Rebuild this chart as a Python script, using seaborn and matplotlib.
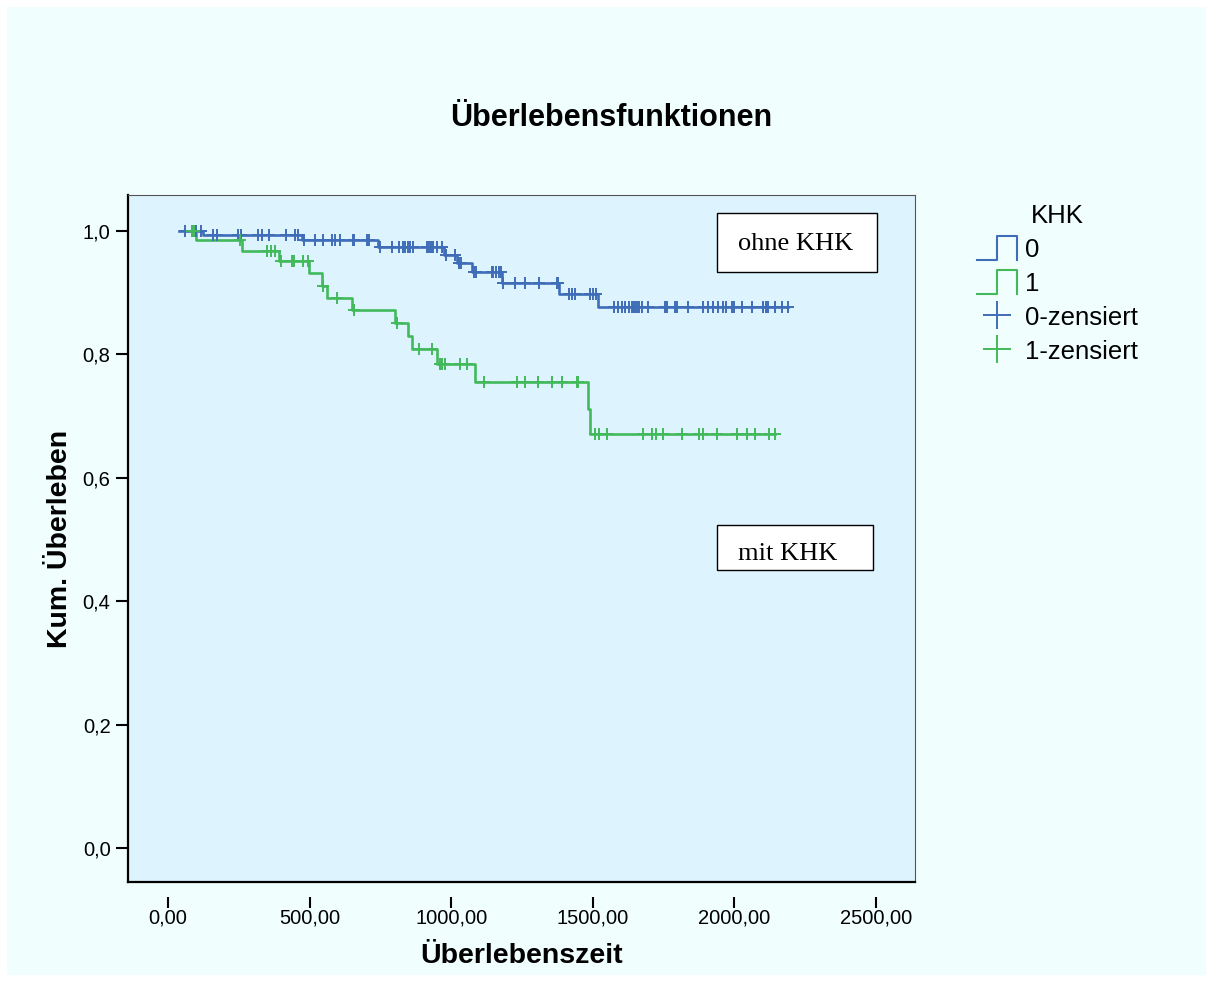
import numpy as np
import pandas as pd
import matplotlib
matplotlib.use("Agg")
import matplotlib.pyplot as plt
import seaborn as sns
from matplotlib.lines import Line2D
from matplotlib.patches import Rectangle
from matplotlib.legend_handler import HandlerBase

# ---------------- data ----------------
title = "Überlebensfunktionen"
x_label = "Überlebenszeit"
y_label = "Kum. Überleben"
legend_title = "KHK"
legend_labels = ["0", "1", "0-zensiert", "1-zensiert"]
x_ticks = [0, 500, 1000, 1500, 2000, 2500]
x_tick_labels = ["0,00", "500,00", "1000,00", "1500,00", "2000,00", "2500,00"]
y_ticks = [0.0, 0.2, 0.4, 0.6, 0.8, 1.0]
y_tick_labels = ["0,0", "0,2", "0,4", "0,6", "0,8", "1,0"]
note_upper = "ohne KHK"
note_lower = "mit KHK"

# KHK = 0 (step function: time at which survival changes, survival after)
khk0_times = [40, 124, 473, 742, 975, 1022, 1075, 1180, 1380, 1520, 2190]
khk0_surv = [1.0, 0.993, 0.985, 0.974, 0.961, 0.948, 0.934, 0.916, 0.898, 0.876, 0.876]
khk0_censored = [60, 86, 98, 118, 160, 174, 248, 258, 319, 333, 358, 417, 449, 458,
                 480, 519, 548, 578, 590, 607, 652, 657, 702, 710,
                 749, 792, 817, 829, 837, 846, 855, 866, 913, 921, 928, 935, 949, 966,
                 980, 1012, 1028, 1034, 1080, 1086, 1143, 1149, 1158, 1170, 1176,
                 1184, 1225, 1260, 1310, 1373, 1378, 1417, 1425, 1437, 1490, 1500, 1511,
                 1576, 1590, 1602, 1614, 1629, 1637, 1643, 1649, 1655, 1663, 1672, 1696,
                 1755, 1761, 1790, 1798, 1837, 1890, 1908, 1925, 1943, 1961, 1970, 1990,
                 1999, 2026, 2061, 2102, 2110, 2120, 2143, 2167, 2190]

# KHK = 1
khk1_times = [80, 99, 262, 393, 499, 543, 560, 650, 800, 849, 863, 949, 1084, 1484, 1490, 2143]
khk1_surv = [1.0, 0.985, 0.968, 0.951, 0.932, 0.911, 0.892, 0.872, 0.851, 0.830, 0.809,
             0.784, 0.755, 0.712, 0.671, 0.671]
khk1_censored = [85, 93, 255, 351, 364, 378, 398, 437, 446, 478, 495, 546, 596, 656, 808,
                 886, 933, 960, 969, 979, 1031, 1055, 1116, 1231, 1261, 1308, 1357, 1392,
                 1443, 1449, 1508, 1522, 1549, 1678, 1708, 1723, 1747, 1814, 1876, 1890,
                 1940, 2010, 2043, 2073, 2123, 2143]

# ---------------- style ----------------
W, H = 1213, 982
BLUE = "#3F6DB8"
GREEN = "#42B95B"
OUTER_BG = "#F0FEFE"
PLOT_BG = "#DDF3FD"

plt.rcParams["font.family"] = ["Liberation Sans", "DejaVu Sans"]

fig = plt.figure(figsize=(W / 100, H / 100), dpi=100, facecolor="white")
fig.add_artist(Rectangle((7 / W, 7 / H), 1 - 14 / W, 1 - 14 / H, transform=fig.transFigure,
                         facecolor=OUTER_BG, edgecolor="none", zorder=-10))

ax = fig.add_axes([128 / W, 1 - 882 / H, (915 - 128) / W, (882 - 195) / H])
ax.set_facecolor(PLOT_BG)


def surv_at(times, surv, t):
    idx = np.searchsorted(np.asarray(times), np.asarray(t), side="right") - 1
    return np.asarray(surv)[np.clip(idx, 0, None)]


for times, surv, cens, col in [(khk0_times, khk0_surv, khk0_censored, BLUE),
                               (khk1_times, khk1_surv, khk1_censored, GREEN)]:
    df = pd.DataFrame({"t": times, "s": surv})
    sns.lineplot(data=df, x="t", y="s", drawstyle="steps-post", color=col, linewidth=1.9,
                 estimator=None, sort=False, ax=ax, legend=False)
    dc = pd.DataFrame({"t": cens, "s": surv_at(times, surv, cens)})
    sns.scatterplot(data=dc, x="t", y="s", marker="+", s=70, color=col, linewidth=1.4,
                    ax=ax, legend=False, zorder=3)

ax.set_xlim(-141.2, 2637.7)
ax.set_ylim(-0.0551, 1.0583)
ax.set_xticks(x_ticks)
ax.set_xticklabels(x_tick_labels)
ax.set_yticks(y_ticks)
ax.set_yticklabels(y_tick_labels)
ax.tick_params(axis="x", direction="out", length=8, width=1.5, pad=0, labelsize=14.5, colors="black")
ax.tick_params(axis="y", direction="out", length=8.6, width=1.5, pad=4, labelsize=14.5, colors="black")

# spines
ax.spines["left"].set_linewidth(1.6)
ax.spines["left"].set_color("black")
ax.spines["top"].set_linewidth(0.8)
ax.spines["top"].set_color("#555555")
ax.spines["right"].set_linewidth(0.8)
ax.spines["right"].set_color("#555555")
ax.spines["bottom"].set_position(("outward", 11))
ax.spines["bottom"].set_linewidth(0)
ax.plot([0, 1], [0, 0], transform=ax.transAxes, color="black", lw=1.6, clip_on=False, zorder=5)

ax.set_xlabel(x_label, fontsize=20.5, fontweight="bold", labelpad=11)
ax.set_ylabel(y_label, fontsize=20.5, fontweight="bold", labelpad=7)

fig.text(611 / W, 1 - 118 / H, title, ha="center", va="center", fontsize=22, fontweight="bold")

# annotation boxes
fig.add_artist(Rectangle((717 / W, 1 - 272 / H), 160 / W, 59 / H, transform=fig.transFigure,
                         facecolor="white", edgecolor="black", lw=1.0, zorder=4))
fig.add_artist(Rectangle((717 / W, 1 - 570 / H), 156 / W, 45 / H, transform=fig.transFigure,
                         facecolor="white", edgecolor="black", lw=1.0, zorder=4))
fig.text(738 / W, 1 - 249.5 / H, note_upper, ha="left", va="baseline", fontsize=19,
         family="Liberation Serif", zorder=5)
fig.text(738 / W, 1 - 560 / H, note_lower, ha="left", va="baseline", fontsize=19,
         family="Liberation Serif", zorder=5)


# legend
class StepHandler(HandlerBase):
    def create_artists(self, legend, orig_handle, xdescent, ydescent, width, height, fontsize, trans):
        x0, y0 = -xdescent, -ydescent
        xs = [x0, x0 + width / 2, x0 + width / 2, x0 + width, x0 + width]
        ys = [y0, y0, y0 + height, y0 + height, y0]
        ln = Line2D(xs, ys, color=orig_handle.get_color(), lw=orig_handle.get_linewidth(),
                    transform=trans)
        return [ln]


h0 = Line2D([], [], color=BLUE, lw=1.5)
h1 = Line2D([], [], color=GREEN, lw=1.5)
h2 = Line2D([], [], color=BLUE, marker="+", ls="none", markersize=20, mew=1.4)
h3 = Line2D([], [], color=GREEN, marker="+", ls="none", markersize=20, mew=1.4)
fig.legend([h0, h1, h2, h3], legend_labels, title=legend_title,
           handler_map={h0: StepHandler(), h1: StepHandler()},
           loc="upper left", bbox_to_anchor=(977 / W, 1 - 204 / H), frameon=False,
           borderpad=0, borderaxespad=0, handlelength=1.57, handleheight=1.06,
           handletextpad=0.3, labelspacing=0.32, fontsize=18.5, title_fontsize=18.5)

fig.savefig("out.png", dpi=100, facecolor="white")
